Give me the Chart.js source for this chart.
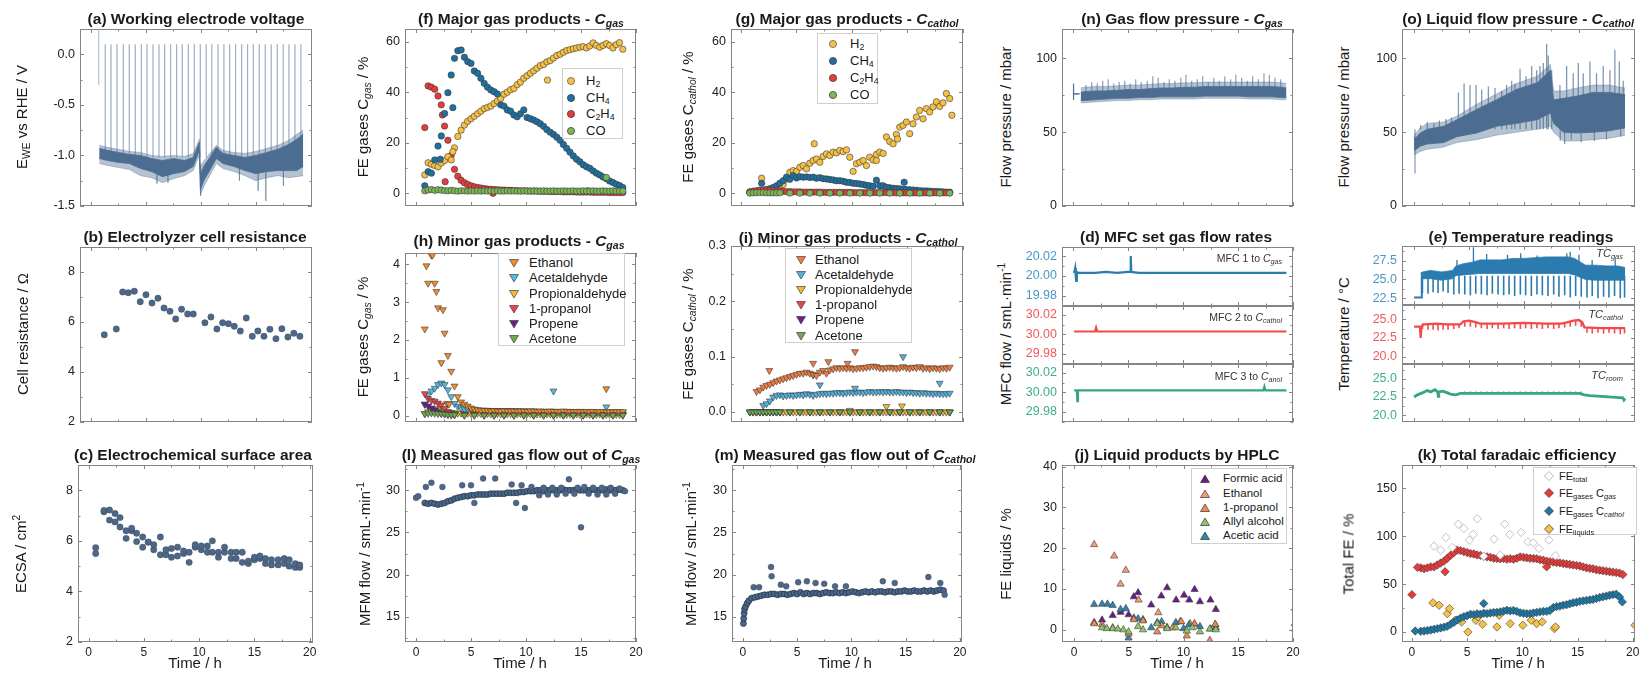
<!DOCTYPE html>
<html>
<head>
<meta charset="utf-8">
<script src="https://cdn.jsdelivr.net/npm/chart.js@4.4.1/dist/chart.umd.min.js"></script>
<style>
body { margin: 0; background: #fff; }
#fig { position: relative; width: 1639px; height: 680px; overflow: hidden; background: #fff;
       font-family: "Liberation Sans", Arial, Helvetica, sans-serif; color: #1a1a1a; }
.ttl { position: absolute; z-index: 3; transform: translate(-50%, -50%); font-weight: bold; font-size: 15.5px; white-space: nowrap; }
.yt { position: absolute; z-index: 3; transform: translate(-50%, -50%) rotate(-90deg); font-size: 15px; white-space: nowrap; }
.xt { position: absolute; z-index: 3; transform: translate(-50%, -50%); font-size: 15px; white-space: nowrap; }
.note { position: absolute; z-index: 3; transform: translate(-100%, -50%); font-size: 10.5px; color: #333; white-space: nowrap; }
sub, sup { font-size: 0.68em; line-height: 0; }
sub { vertical-align: -0.3em; }
sup { vertical-align: 0.55em; }
.lg { position: absolute; z-index: 3; box-sizing: border-box; border: 1px solid #cfcfcf; background: #fff; }
.lr { position: absolute; transform: translateY(-50%); white-space: nowrap; line-height: 1.15; }
.mk { position: absolute; width: 0; height: 0; }
</style>
</head>
<body>
<div id="fig">
  <div class="ttl" style="left:196px;top:19px">(a) Working electrode voltage</div>
  <div class="ttl" style="left:521px;top:19px">(f) Major gas products - <i>C</i><sub><i>gas</i></sub></div>
  <div class="ttl" style="left:847px;top:19px">(g) Major gas products - <i>C</i><sub><i>cathol</i></sub></div>
  <div class="ttl" style="left:1182px;top:19px">(n) Gas flow pressure - <i>C</i><sub><i>gas</i></sub></div>
  <div class="ttl" style="left:1518px;top:19px">(o) Liquid flow pressure - <i>C</i><sub><i>cathol</i></sub></div>
  <div class="ttl" style="left:195px;top:237px">(b) Electrolyzer cell resistance</div>
  <div class="ttl" style="left:519px;top:241px">(h) Minor gas products - <i>C</i><sub><i>gas</i></sub></div>
  <div class="ttl" style="left:848px;top:238px">(i) Minor gas products - <i>C</i><sub><i>cathol</i></sub></div>
  <div class="ttl" style="left:1176px;top:237px">(d) MFC set gas flow rates</div>
  <div class="ttl" style="left:1521px;top:237px">(e) Temperature readings</div>
  <div class="ttl" style="left:193px;top:455px">(c) Electrochemical surface area</div>
  <div class="ttl" style="left:521px;top:455px">(l) Measured gas flow out of <i>C</i><sub><i>gas</i></sub></div>
  <div class="ttl" style="left:845px;top:455px">(m) Measured gas flow out of <i>C</i><sub><i>cathol</i></sub></div>
  <div class="ttl" style="left:1177px;top:455px">(j) Liquid products by HPLC</div>
  <div class="ttl" style="left:1517px;top:455px">(k) Total faradaic efficiency</div>

  <div class="yt" style="left:21px;top:117px">E<sub>WE</sub> vs RHE / V</div>
  <div class="yt" style="left:362px;top:117px">FE gases C<sub><i>gas</i></sub> / %</div>
  <div class="yt" style="left:687px;top:117px">FE gases C<sub><i>cathol</i></sub> / %</div>
  <div class="yt" style="left:1005px;top:117px">Flow pressure / mbar</div>
  <div class="yt" style="left:1343px;top:117px">Flow pressure / mbar</div>
  <div class="yt" style="left:22px;top:334px">Cell resistance / Ω</div>
  <div class="yt" style="left:362px;top:337px">FE gases C<sub><i>gas</i></sub> / %</div>
  <div class="yt" style="left:687px;top:334px">FE gases C<sub><i>cathol</i></sub> / %</div>
  <div class="yt" style="left:1005px;top:334px">MFC flow / smL·min<sup>-1</sup></div>
  <div class="yt" style="left:1343px;top:334px">Temperature / °C</div>
  <div class="yt" style="left:20px;top:554px">ECSA / cm<sup>2</sup></div>
  <div class="yt" style="left:364px;top:554px">MFM flow / smL·min<sup>-1</sup></div>
  <div class="yt" style="left:690px;top:554px">MFM flow / smL·min<sup>-1</sup></div>
  <div class="yt" style="left:1005px;top:554px">FE liquids / %</div>
  <div class="yt" style="left:1348px;top:554px">Total FE / %</div>

  <div class="xt" style="left:195px;top:662px">Time / h</div>
  <div class="xt" style="left:520px;top:662px">Time / h</div>
  <div class="xt" style="left:845px;top:662px">Time / h</div>
  <div class="xt" style="left:1177px;top:662px">Time / h</div>
  <div class="xt" style="left:1518px;top:662px">Time / h</div>

  <div class="note" style="left:1282px;top:258px">MFC 1 to <i>C</i><sub><i>gas</i></sub></div>
  <div class="note" style="left:1282px;top:317px">MFC 2 to <i>C</i><sub><i>cathol</i></sub></div>
  <div class="note" style="left:1282px;top:376px">MFC 3 to <i>C</i><sub><i>anol</i></sub></div>
  <div class="note" style="left:1623px;top:253px;font-size:11px"><i>TC</i><sub><i>gas</i></sub></div>
  <div class="note" style="left:1623px;top:314px;font-size:11px"><i>TC</i><sub><i>cathol</i></sub></div>
  <div class="note" style="left:1623px;top:375px;font-size:11px"><i>TC</i><sub><i>room</i></sub></div>
</div>
<script>
// ---- sampling grids (h) ----
const G = [0.8,1.1,1.4,1.7,2.0,2.3,2.6,2.9,3.2,3.5,
  3.8,4.1,4.4,4.7,5.0,5.3,5.6,5.9,6.2,6.5,
  6.8,7.1,7.4,7.7,8.0,8.3,8.6,8.9,9.2,9.5,
  9.8,10.1,10.4,10.7,11.0,11.3,11.6,11.9,12.2,12.5,
  12.8,13.1,13.4,13.7,14.0,14.3,14.6,14.9,15.2,15.5,
  15.8,16.1,16.4,16.7,17.0,17.3,17.6,17.9,18.2,18.5,
  18.8];
const GC = [0.8,1.1,1.4,1.7,2.0,2.3,2.6,2.9,3.2,3.5,4.4,5.3,6.2,7.1,8.0,8.9,9.8,10.7,11.6,12.5,13.4,14.3,15.2,16.1,17.0,17.9,18.8];

// ---- (a) working electrode voltage ----
const aBandT  = [0.75,1.5,2.5,3.5,4.5,5.5,6.5,7.5,8.5,9.3,9.85,9.95,10.3,10.8,11.4,12.0,13.0,14.0,15.0,16.0,17.0,18.0,18.7,19.3];
const aBandHi = [-0.93,-0.95,-0.97,-0.99,-1.0,-1.03,-1.05,-1.03,-1.05,-1.02,-0.87,-1.18,-1.1,-1.02,-0.92,-0.98,-1.0,-1.02,-1.0,-0.97,-0.94,-0.89,-0.84,-0.79];
const aBandLo = [-1.03,-1.05,-1.07,-1.08,-1.13,-1.16,-1.21,-1.18,-1.16,-1.11,-0.95,-1.34,-1.24,-1.15,-1.03,-1.08,-1.11,-1.15,-1.18,-1.16,-1.15,-1.15,-1.15,-1.11];
const aHaloHi = [-0.9,-0.92,-0.94,-0.96,-0.97,-1.0,-1.01,-1.0,-1.01,-0.98,-0.84,-1.1,-1.05,-0.98,-0.9,-0.95,-0.97,-0.98,-0.96,-0.93,-0.9,-0.85,-0.79,-0.75];
const aHaloLo = [-1.08,-1.1,-1.12,-1.14,-1.2,-1.22,-1.27,-1.23,-1.2,-1.15,-1.0,-1.39,-1.3,-1.2,-1.08,-1.13,-1.16,-1.2,-1.25,-1.22,-1.2,-1.22,-1.21,-1.2];
const aSpikeT = [1.3,1.82,2.36,2.94,3.48,4.03,4.58,5.09,5.64,6.18,6.7,7.24,7.79,8.3,8.85,9.39,9.94,10.48,10.99,11.55,12.09,12.61,13.15,13.7,14.24,14.76,15.3,15.85,16.39,16.94,17.48,18.0,18.55,19.09];
const aSpikeTop = 0.1;
const aLeadT = [0.7, 0.7], aLeadV = [0.25, -0.3];
const aDipT = [6.0, 7.0, 9.97, 13.5, 15.2, 15.9, 17.5];
const aDipV = [-1.28, -1.27, -1.4, -1.25, -1.35, -1.45, -1.3];

// ---- (b) cell resistance ----
const bT = [1.21,2.3,2.88,3.39,3.94,4.48,5.0,5.55,6.09,6.64,7.18,7.7,8.24,8.79,9.3,10.36,10.91,11.45,11.97,12.5,13.03,13.58,14.12,14.67,15.18,15.73,16.27,16.82,17.36,17.91,18.45,19.0];
const bV = [5.49,5.72,7.2,7.17,7.23,6.81,7.09,6.76,6.95,6.56,6.43,6.12,6.51,6.32,6.32,5.97,6.2,5.72,5.97,5.93,5.83,5.64,6.16,5.43,5.64,5.43,5.71,5.33,5.73,5.4,5.55,5.43];

// ---- (c) ECSA, two readings per time ----
const cT  = [0.65,1.4,1.9,2.4,2.85,3.4,3.9,4.35,4.9,5.4,5.9,6.5,7.0,7.5,8.05,8.6,9.1,9.65,10.2,10.75,11.2,11.75,12.3,12.9,13.35,13.9,14.45,15.0,15.5,16.0,16.55,17.15,17.7,18.15,18.7,19.1];
const cV1 = [5.73,7.2,7.22,7.08,6.92,6.4,6.5,6.3,6.15,5.95,5.85,6.15,5.65,5.7,5.75,5.6,5.55,5.85,5.8,5.8,6.0,5.55,5.75,5.55,5.55,5.55,5.2,5.35,5.4,5.3,5.25,5.25,5.3,5.25,5.1,5.05];
const cV2 = [5.5,7.15,6.82,6.75,6.55,6.1,6.4,5.97,5.75,5.95,5.65,5.45,5.45,5.35,5.4,5.5,5.15,5.75,5.65,5.55,5.55,5.35,5.55,5.3,5.3,5.15,5.1,5.25,5.3,5.1,5.05,5.05,5.1,5.0,4.95,4.95];

// ---- (f) major gas products, C_gas (FE %) ----
const fH2 = [7.3,12.1,11.5,11.0,10.5,12.0,13.0,14.5,13.2,18.0,
  22.5,25.0,27.0,28.5,29.5,30.5,31.5,32.5,33.5,34.0,
  34.5,35.5,36.5,37.5,39.2,40.0,41.0,41.5,43.0,44.0,
  45.5,46.5,47.5,48.5,49.5,50.5,51.0,52.0,52.5,53.5,
  54.5,55.0,55.8,56.5,56.8,57.2,57.5,57.8,58.0,57.5,
  58.3,59.5,58.5,57.8,58.5,59.2,58.5,57.5,58.8,59.6,
  57.0];
const fH2x = [[11.95,44.8],[3.35,16.5]];
const fCH4 = [3.0,8.6,8.0,13.2,18.7,22.7,31.6,39.8,46.8,53.4,
  56.4,56.7,53.8,52.1,51.4,48.4,47.5,45.5,43.5,42.0,
  40.9,40.2,39.3,35.0,34.5,33.0,32.5,31.0,30.3,31.5,
  33.0,30.0,29.5,29.0,28.3,27.5,26.5,25.2,24.2,23.3,
  22.2,21.0,19.3,17.8,16.3,14.8,13.5,12.5,11.3,10.5,
  9.9,8.9,8.0,7.3,6.5,5.8,4.9,4.3,3.6,3.1,
  2.3];
const fCH4x = [[3.35,33.9],[15.6,1.0],[2.2,13.5]];
const fC2H4 = [26.0,42.5,42.0,41.2,38.5,35.0,26.6,21.0,15.0,9.5,
  6.8,5.2,4.2,3.5,3.0,2.6,2.3,2.1,1.9,1.7,
  1.6,1.5,1.4,1.3,1.3,1.2,1.2,1.1,1.1,1.0,
  1.0,1.0,0.9,0.9,0.9,0.8,0.8,0.8,0.7,0.7,
  0.7,0.7,0.6,0.6,0.6,0.6,0.5,0.5,0.5,0.5,
  0.5,0.4,0.4,0.4,0.4,0.4,0.3,0.3,0.3,0.3,
  0.3];
const fC2H4x = [[2.65,4.6],[7.0,0.0],[2.4,31.0]];
const fCO = [1.0,1.3,1.5,1.2,1.4,1.3,1.1,1.0,1.2,1.0,
  0.9,1.0,1.0,0.9,1.0,0.9,1.0,0.9,1.0,0.9,
  1.0,0.9,1.0,0.9,0.9,1.0,0.9,1.0,0.9,0.9,
  1.0,0.9,0.9,1.0,0.9,0.9,1.0,0.9,0.9,1.0,
  0.9,0.9,1.0,0.9,0.9,1.0,0.9,0.9,1.0,0.9,
  0.9,1.0,0.9,0.9,1.0,0.9,0.9,1.0,0.9,0.9,
  0.9];
const fCOx = [[17.3,6.3]];

// ---- (g) major gas products, C_cathol ----
const gH2 = [0.3,0.4,0.5,0.8,0.8,0.9,1.0,1.2,1.6,2.5,
  3.5,5.7,8.3,9.0,8.7,10.3,11.0,9.7,11.9,13.0,
  13.6,12.3,14.6,15.6,15.0,16.3,16.0,17.0,16.5,17.2,
  14.3,8.7,11.7,12.3,13.0,11.0,14.3,13.2,15.4,16.3,
  15.8,22.3,20.5,19.6,23.3,26.2,26.9,28.2,23.6,27.5,
  30.2,32.8,29.5,33.5,32.2,34.2,36.2,34.4,35.8,39.5,
  37.5];
const gH2x = [[1.86,6.0],[6.6,19.6],[19.0,30.9],[12.2,13.0],[14.1,21.5]];
const gCH4 = [0.6,0.8,1.0,1.2,1.2,1.5,1.8,2.3,3.0,4.0,
  5.0,6.4,5.6,7.0,6.1,6.6,6.4,6.5,6.3,6.4,
  6.0,6.2,5.8,5.7,5.5,5.3,5.0,5.0,4.8,4.4,
  4.3,4.0,3.9,3.7,3.5,3.2,3.0,2.8,5.2,3.0,
  3.0,2.4,2.2,2.0,1.9,1.8,1.6,1.5,1.4,1.3,
  1.2,1.1,1.0,1.0,0.9,0.8,0.8,0.7,0.6,0.5,
  0.5];
const gCH4x = [[1.86,4.0],[14.7,4.4]];
const gC2H4 = [0.5,0.8,1.0,1.2,1.3,1.3,1.2,1.1,1.0,0.9,
  0.8,0.7,0.7,0.6,0.6,0.6,0.5,0.5,0.5,0.5,
  0.5,0.5,0.4,0.4,0.4,0.4,0.4,0.4,0.4,0.4,
  0.4,0.3,0.3,0.3,0.3,0.3,0.3,0.3,0.3,0.3,
  0.3,0.3,0.3,0.3,0.2,0.2,0.2,0.2,0.2,0.2,
  0.2,0.2,0.2,0.2,0.2,0.2,0.2,0.2,0.2,0.2,
  0.2];
const gCO = [0.1,0.2,0.3,0.3,0.3,0.2,0.2,0.2,0.2,0.2,0.1,0.1,0.1,0.1,0.1,0.1,0.1,0.1,0.1,0.1,0.1,0.1,0.1,0.1,0.1,0.1,0.1];

// ---- (h) minor gas products, C_gas ----
const hEth = [2.29,3.5,4.24,3.5,2.85,1.4,2.18,1.59,1.17,0.78,
  0.5,0.36,0.3,0.25,0.2,0.17,0.15,0.14,0.13,0.13,
  0.12,0.13,0.12,0.12,0.13,0.12,0.12,0.12,0.11,0.12,
  0.12,0.11,0.12,0.12,0.11,0.12,0.11,0.11,0.12,0.11,
  0.11,0.11,0.12,0.11,0.11,0.1,0.11,0.11,0.1,0.11,
  0.1,0.11,0.1,0.1,0.11,0.1,0.1,0.1,0.1,0.1,
  0.1];
const hEthx = [[0.95,3.96],[1.5,4.24],[1.85,3.28],[2.45,2.8],[2.82,0.32],[17.3,0.71],[3.0,0.3]];
const hAce = [0.3,0.55,0.65,0.72,0.82,0.86,0.82,0.68,0.5,0.32,
  0.24,0.2,0.18,0.17,0.16,0.15,0.15,0.14,0.14,0.14,
  0.13,0.13,0.13,0.13,0.13,0.13,0.13,0.12,0.13,0.12,
  0.12,0.12,0.12,0.12,0.11,0.11,0.11,0.11,0.11,0.11,
  0.1,0.1,0.1,0.1,0.1,0.1,0.1,0.1,0.1,0.1,
  0.09,0.09,0.09,0.09,0.09,0.09,0.09,0.09,0.09,0.09,
  0.09];
const hAcex = [[12.5,0.65],[17.3,0.23]];
const hPropal = [0.05,0.1,0.13,0.17,0.18,0.15,0.12,0.1,0.08,0.07,
  0.06,0.06,0.05,0.06,0.05,0.05,0.06,0.05,0.05,0.05,
  0.04,0.05,0.05,0.04,0.05,0.04,0.05,0.04,0.04,0.05,
  0.04,0.04,0.04,0.05,0.04,0.04,0.04,0.04,0.04,0.04,
  0.03,0.04,0.04,0.03,0.04,0.03,0.04,0.03,0.03,0.04,
  0.03,0.03,0.03,0.04,0.03,0.03,0.03,0.03,0.03,0.03,
  0.03];
const hPropanol = [0.58,0.45,0.4,0.38,0.33,0.28,0.19,0.1,0.06,0.04,0.03,0.03,0.02,0.02,0.02,0.02,0.02,0.02,0.02,0.02,0.02,0.02,0.02,0.02,0.02,0.02,0.02];
const hPropene = [0.3,0.25,0.2,0.15,0.1,0.06,0.04,0.03,0.02,0.02,0.01,0.01,0.01,0.01,0.01,0.01,0.01,0.01,0.01,0.01,0.01,0.01,0.01,0.01,0.01,0.01,0.01];
const hAcetone = [0.05,0.06,0.07,0.06,0.05,0.05,0.04,0.03,0.02,0.02,0.01,0.01,0.01,0.01,0.01,0.01,0.01,0.01,0.01,0.01,0.01,0.01,0.01,0.01,0.01,0.01,0.01];

// ---- (i) minor gas products, C_cathol ----
const iEth = [null,null,0.037,0.04,0.045,0.048,0.05,0.053,0.056,0.058,
  0.06,0.062,0.064,0.066,0.068,0.07,0.07,0.072,0.07,0.068,
  0.066,0.072,0.075,0.07,0.076,0.078,0.08,0.079,0.08,0.079,
  0.08,0.078,0.079,0.08,0.08,0.081,0.082,0.083,0.082,0.08,
  0.079,0.08,0.081,0.08,0.079,0.08,0.082,0.08,0.079,0.081,
  0.08,0.082,0.079,0.08,0.078,0.08,0.079,0.078,0.08,0.079,
  0.081];
const iEthx = [[2.55,0.075],[6.5,0.088],[7.87,0.091],[9.6,0.088],[10.27,0.109]];
const iAce = [null,null,null,null,0.012,0.015,0.02,0.027,0.03,0.031,
  0.029,0.03,0.031,0.03,0.031,0.032,0.031,0.033,0.032,0.03,
  0.032,0.033,0.034,0.033,0.034,0.034,0.035,0.035,0.034,0.035,
  0.036,0.035,0.036,0.036,0.035,0.036,0.037,0.036,0.036,0.037,
  0.036,0.037,0.036,0.036,0.037,0.036,0.036,0.035,0.036,0.035,
  0.035,0.034,0.035,0.034,0.034,0.033,0.034,0.033,0.033,0.033,
  0.034];
const iAcex = [[6.5,0.067],[7.1,0.049],[10.27,0.043],[14.6,0.1],[17.9,0.052]];
const iPropal = [0,0,0,0,0,0,0,0,0,0, 0,0,0,0,0,0,0,0,0,0, 0,0,0,0,0,0,0,0,0,0,
  0,0,0,0,0,0,0,0,0,0, 0,0,0,0,0,0,0,0,0,0, 0,0,0,0,0,0,0,0,0,0, 0];
const iPropalx = [[13.1,0.01],[14.5,0.011],[9.8,0.003]];
const iPropanol = [0,0,0,0,0,0,0,0,0,0,0,0,0,0,0,0,0,0,0,0,0,0,0,0,0,0,0];
const iPropene = [0,0,0,0,0,0,0,0,0,0,0,0,0,0,0,0,0,0,0,0,0,0,0,0,0,0,0];
const iAcetone = [0,0,0,0,0,0,0,0,0,0,0,0,0,0,0,0,0,0,0,0,0,0,0,0,0,0,0];

// ---- (n) gas flow pressure ----
const nStartT = [0, 0.6], nStartV = [76, 76];
const nStartBarT = [0.05];
const nBandT  = [0.7,1,2,3,4,5,6,7,8,9,10,11,12,13,14,15,16,17,18,19,19.4];
const nBandLo = [71.5,71.5,72,72.5,73,73,73.5,73.5,74,74,74,74,74.5,74.5,74.5,74.5,74,74,74,73.5,73.5];
const nBandHi = [77,77.5,78,78,78.5,79,79,79.5,80,80,80.5,80.5,81,81,81,81,81,81,81,80.5,80];
const nHaloLo = [70,70,70.5,71,71.5,71.5,72,72,72.5,72.5,72.5,72.5,73,73,73,73,72.5,72.5,72.5,72,72];
const nHaloHi = [80,80.5,81,81,81.5,82,82,82.5,83,83,83.5,83.5,84,84,84,84,84,84,84,83.5,83];
const nSpikeT = [1.18,1.7,2.2,2.7,3.2,3.7,4.2,4.7,5.2,5.7,6.2,6.75,7.25,7.75,8.27,8.76,9.27,9.8,10.27,10.79,11.3,11.79,12.3,12.8,13.3,13.8,14.33,14.8,15.33,15.85,16.33,16.85,17.36,17.85,18.36,18.88];
const nSpikeV = [82,84,83,85,86,83,84,85,83,86,84,85,88,87,84,86,85,87,89,85,86,88,84,87,85,88,86,89,87,85,88,86,90,89,87,86];

// ---- (o) liquid flow pressure ----
const oBandT  = [0.0,0.12,0.55,1.2,2.7,3.9,5.7,7.5,9.3,11.2,12.4,12.7,13.6,14.8,16.3,17.8,19.2];
const oBandLo = [38,38,40.5,42,43,47,49.5,54,56,58.5,63,56,50,49.5,50,51,53];
const oBandHi = [47,46,49.5,52,54,58.5,65.5,72,79,83.5,92,72,73,74.5,77,77,75.5];
const oHaloLo = [35,35,37,38.5,40,43,45,48,50,52,54,50,44,44,45,46,48];
const oHaloHi = [49,49,53,56,57,61,69,76,83,88,96,78,78,80,82,82,80];
const oSpikeT = [0.6,1.2,1.8,2.3,2.9,3.4,4.03,4.55,5.09,5.64,6.15,6.76,7.36,7.97,8.42,8.88,9.18,9.64,10.18,10.7,11.15,11.45,11.76,12.06,12.21,12.52,13.27,13.88,14.48,14.94,15.39,16.0,16.6,17.21,17.82,18.27,18.67,19.03];
const oSpikeV = [55,57,56,58,59,60,77,83,82,82,79,81,80,78,82,85,83,93,88,95,92,95,97,110,102,92,82,95,90,97,90,98,90,95,92,106,98,85];
const oDipT = [0.08,13.3,13.7,14.3,15.2,16.4,17.5,18.8];
const oDipV = [22,44,42,45,43,44,45,47];

// ---- (d) MFC set flows ----
const d1T = [0.1,0.2,0.25,0.3,0.35,0.5,1,2,3,4,5,5.2,5.25,5.3,6,8,10,12,14,16,18,19.4];
const d1V = [20.003,20.008,19.999,19.995,20.004,20.003,20.003,20.003,20.004,20.003,20.004,20.004,20.02,20.004,20.003,20.003,20.003,20.003,20.003,20.003,20.003,20.003];
const d2T = [0.1,1,2,2.1,2.2,4,8,12,16,19.4];
const d2V = [30.003,30.003,30.003,30.007,30.003,30.003,30.003,30.003,30.003,30.003];
const d3T = [0.1,0.35,0.4,0.45,3,7,10,13,17.3,17.4,17.5,19.4];
const d3V = [30.002,30.002,29.991,30.002,30.002,30.002,30.002,30.002,30.002,30.006,30.002,30.002];

// ---- (e) temperatures ----
const eCycleT = [0.76,1.27,1.73,2.18,2.64,3.09,3.61,4.09,4.61,5.12,5.61,6.12,6.64,7.12,7.64,8.15,8.64,9.15,9.67,10.15,10.67,11.18,11.67,12.18,12.7,13.18,13.7,14.21,14.7,15.21,15.73,16.21,16.73,17.24,17.73,18.24,18.76,19.15];
const eGasPreT = [0, 0.7, 0.7], eGasPreV = [22.6, 22.6, 26.0];
const eGasT  = [0.75,1.5,2.5,3.5,3.8,4.5,5.3,6,7,8,9,10,11,12,13,14,14.6,15.6,16.5,17.5,18.5,19.2];
const eGasLo = [25.1,25.1,24.9,25.1,25.5,25.6,25.7,25.8,25.8,25.8,25.8,25.8,25.8,25.8,25.8,25.8,25.6,25.0,24.9,24.9,24.9,24.9];
const eGasHi = [26.0,26.2,26.0,26.2,26.8,27.1,27.3,27.6,27.6,27.6,27.8,27.8,27.9,28.0,28.0,28.0,27.8,26.9,26.9,26.8,26.8,26.6];
const eGasDipV = [23.2,23.1,23.3,23.2,23.4,23.2,23.0,23.1,23.0,22.9,23.1,23.0,22.9,23.1,23.0,22.9,23.0,22.8,23.0,22.9,22.8,23.0,22.9,22.8,23.0,22.7,22.9,22.6,22.8,22.7,22.6,22.8,22.5,22.7,22.6,22.8,22.5,22.6];
const eGasUpT = [3.9,5.4,6.6,8.5,9.7,11.2,13.9,14.2,15.0,16.2,18.3];
const eGasUpV = [27.6,29.3,28.4,28.3,28.5,28.2,28.5,28.7,28.3,27.6,27.7];
const eCatT = [0,0.55,0.6,0.65,0.8,1.0,2.0,3.0,4.2,4.5,5.0,5.6,6.0,8.0,10.0,12.0,13.4,14.0,14.5,15.0,15.3,15.5,17.0,19.2];
const eCatV = [24.0,24.0,22.5,23.8,24.3,24.3,24.4,24.3,24.3,24.7,24.8,24.6,24.4,24.4,24.5,24.4,24.4,24.6,24.8,24.9,24.6,23.9,23.8,23.8];
const eCatDipBase = [24.3,24.3,24.3,24.3,24.3,24.3,24.3,24.3,24.7,24.8,24.6,24.4,24.4,24.4,24.4,24.4,24.4,24.4,24.4,24.4,24.4,24.4,24.4,24.4,24.4,24.4,24.4,24.7,24.8,24.7,23.8,23.8,23.8,23.8,23.8,23.8,23.8,23.8];
const eCatDipV = [23.7,23.6,23.6,23.5,23.6,23.6,23.7,23.8,24.0,24.0,23.9,23.8,23.7,23.8,23.7,23.8,23.7,23.8,23.7,23.8,23.7,23.8,23.7,23.8,23.7,23.8,23.9,24.0,24.1,24.0,23.2,23.1,23.2,23.1,23.2,23.1,23.0,23.1];
const eRoomT = [0,0.3,0.8,1.2,1.5,1.9,2.15,2.2,2.25,2.6,3.0,3.3,3.8,4.2,15.0,15.5,16.0,17.0,18.0,19.0,19.1,19.2];
const eRoomV = [22.5,22.8,23.1,23.4,23.2,23.5,23.2,22.6,23.2,23.3,23.1,22.9,22.8,23.0,23.0,22.8,22.7,22.6,22.5,22.4,22.1,22.3];

// ---- (l), (m) measured gas flows ----
const lChain = [28.5,28.4,28.5,28.4,28.3,28.4,28.5,28.7,28.8,29.0,
  29.1,29.2,29.3,29.3,29.4,29.4,29.5,29.5,29.5,29.5,
  29.6,29.6,29.6,29.6,29.6,29.7,29.7,29.7,29.7,29.8,
  29.8,29.9,29.9,29.9,30.0,30.0,29.9,30.0,30.0,30.0,
  30.0,30.0,30.1,30.0,30.0,30.0,30.1,30.0,30.0,30.0,
  30.0,30.1,30.0,30.0,30.0,30.1,30.0,30.0,30.0,30.1,
  30.0];
const lScatter = [[0.0,29.1],[0.2,29.3],[0.9,30.4],[1.4,30.9],[2.4,30.4],[4.2,30.6],[5.0,30.6],[5.3,28.5],[6.1,31.4],[7.2,31.4],[8.7,30.7],[9.1,28.5],[9.6,30.6],[9.9,27.9],[10.5,30.4],[11.2,29.4],[11.6,30.3],[12.0,29.5],[12.4,30.3],[12.8,29.5],[13.2,30.3],[13.6,29.6],[13.9,31.3],[14.4,29.6],[14.7,30.3],[15.0,25.6],[15.3,30.4],[15.7,29.6],[16.1,30.3],[16.5,29.5],[16.9,30.3],[17.3,29.5],[17.7,30.3],[18.1,29.6],[18.5,30.2],[19.0,29.9]];
const mChain = [17.2,17.3,17.4,17.5,17.6,17.6,17.7,17.7,17.6,17.7,
  17.7,17.6,17.7,17.8,17.7,17.9,17.7,17.8,17.7,17.8,
  17.8,17.7,17.8,17.9,17.8,17.8,17.9,17.8,17.9,17.8,
  17.9,18.0,17.9,17.8,17.9,18.0,17.9,18.0,17.9,18.0,
  18.0,17.9,18.0,18.0,17.9,18.0,18.0,18.1,18.0,18.0,
  18.1,18.0,18.0,18.1,18.0,18.1,18.0,18.1,18.2,18.1,
  null];
const mStart = [[0.05,14.2],[0.08,14.8],[0.12,15.4],[0.16,15.9],[0.25,16.2],[0.4,16.6],[0.55,16.9]];
const mScatter = [[1.0,18.5],[1.5,18.5],[2.6,20.9],[2.65,19.8],[3.5,18.8],[4.0,18.6],[5.1,19.1],[5.9,19.2],[6.7,19.0],[7.5,18.9],[8.5,18.6],[9.5,18.6],[12.9,19.2],[14.0,19.0],[17.1,19.7],[18.2,19.0],[18.6,17.6]];

// ---- (j) liquid products by HPLC ----
const jFormic = [[1.84,1.8],[2.56,2.4],[3.53,3.5],[4.25,4.3],[4.98,3.7],[5.46,8.1],[5.85,9.1],[7.05,6.1],[7.97,8.3],[8.5,10.3],[9.32,7.3],[10.05,8.5],[10.53,7.3],[11.01,9.9],[11.5,6.9],[12.46,7.3],[12.95,5.0],[20.2,5.3]];
const jEthanol = [[1.84,20.9],[3.67,18.1],[4.25,11.2],[4.73,14.6],[5.9,7.3],[7.7,4.2],[9.7,2.0],[10.6,1.5],[12.9,1.3],[20.2,1.7]];
const jPropanol = [[1.84,1.5],[2.56,1.3],[3.53,0.5],[4.98,-1.0],[5.46,2.5],[6.3,2.2],[7.6,-0.5],[8.0,1.0],[9.0,0.5],[9.8,2.0],[10.3,-1.5],[11.0,1.5],[12.4,-2.6],[12.9,1.3],[20.2,1.5]];
const jAllyl = [[2.56,0.5],[3.0,0.3],[3.53,0.3],[4.0,0.2],[4.5,0.0],[4.98,-0.5],[5.85,0.8],[6.3,0.0],[7.6,1.5],[8.5,0.3],[9.3,0.5],[10.3,-0.3],[10.8,0.5],[11.5,-0.5],[12.4,0.2],[12.95,0.0],[20.2,0.2]];
const jAcetic = [[1.84,6.2],[2.56,6.3],[3.05,6.3],[3.53,6.0],[4.25,5.0],[4.73,5.2],[4.98,-2.0],[5.46,2.9],[5.85,2.7],[6.3,2.5],[7.05,0.5],[7.6,1.8],[8.0,2.0],[8.5,0.6],[9.3,1.8],[10.0,0.3],[10.5,1.2],[11.0,1.4],[11.5,0.8],[12.46,0.2],[12.95,0.5],[20.2,0.3]];

// ---- (k) total faradaic efficiency ----
const kTotal = [[2.0,89.7],[2.6,85.5],[3.08,98.7],[3.65,88.3],[4.2,112.7],[4.7,108.2],[5.2,96],[5.55,101.9],[5.92,118.3],[6.5,79.2],[7.44,97],[8.0,80.3],[8.4,112.7],[8.86,101.9],[9.9,104],[10.5,94.2],[11.0,93.2],[11.5,87.2],[12.4,96],[13.0,79.6]];
const kGasRed = [67,66,67,68,68,70,72,74,77,80,
  83,85.5,85,84,83,82,81.5,80.5,80,79,
  78.5,78,77,76.8,76.5,76.8,76,76.5,76,77,
  78.5,78,77.5,77,76.8,76.5,75.5,75,74,73.5,
  73,72.5,72.2,71.5,71,70.5,70,69.5,69,68,
  67,66.5,66,65,64.5,64,63.5,63,62.5,62,
  61.5];
const kGasRedx = [[0.0,39],[0.5,67.5],[3.0,63],[12.2,68],[19.1,60]];
const kCathBlue = [0.8,1.0,1.5,2.0,2.8,3.5,4.2,5.0,6.0,8.0,
  10.0,12.5,14.5,16.0,17.0,18.5,18.0,19.0,18.5,19.5,
  19.2,19.8,20.3,20.5,21.0,21.8,22.7,22.0,22.5,21.5,
  20.0,19.5,19.0,19.2,19.8,20.5,21.0,21.5,21.6,22.5,
  25.5,26.5,27.0,28.0,28.5,29.5,30.5,31.0,32.0,32.5,
  33.0,33.5,34.0,35.0,36.0,36.8,37.5,38.4,39.0,39.4,
  36.6];
const kCathBluex = [[0.3,1.0],[6.5,29.7],[19.05,31.4]];
const kLiquids = [[1.9,30.4],[2.46,27.9],[3.2,19.2],[3.4,24.4],[3.9,12.2],[4.5,10.5],[5.07,0],[5.8,12.2],[6.0,15.7],[6.4,8.0],[7.7,5.2],[7.9,17.4],[8.9,8.7],[10.05,7.0],[10.8,12.2],[11.3,8.7],[11.8,10.5],[12.9,3.5],[13.0,5.2],[20.2,7.0]];

// ---- colours ----
const C_H2 = '#f4c144', C_CH4 = '#1f6f9f', C_C2H4 = '#e63b3b', C_CO = '#7cb657';
const C_ETH = '#f28c28', C_ACE = '#55b8e0', C_PAL = '#f5b731', C_POL = '#ec4250', C_PEN = '#6b1f8f', C_TON = '#6fa84f';
const C_DOT = '#4b6789';
const DENSE = '#4d6d91', HALO = 'rgba(77,109,145,0.42)';
const C_BLUE = '#2b7bb0', C_RED = '#f24a4a', C_GRN = '#37a582';

// ---- helpers ----
const P = (ts, ys) => ts.map((t, i) => ({ x: t, y: ys[i] })).filter(p => p.y !== null);
const PP = arr => arr.map(p => ({ x: p[0], y: p[1] }));
function spikes(ts, base, tops) {
  const out = [];
  ts.forEach((t, i) => {
    out.push({ x: t, y: Array.isArray(base) ? base[i] : base });
    out.push({ x: t, y: Array.isArray(tops) ? tops[i] : tops });
    out.push({ x: t, y: null });
  });
  return out;
}
function dots(data, fill, o = {}) {
  return Object.assign({ data, showLine: false, pointStyle: 'circle', pointRadius: 3.2,
    pointBackgroundColor: fill, pointBorderColor: '#3a3a3a', pointBorderWidth: 0.6 }, o);
}
function ln(data, color, w) {
  return { data, showLine: true, pointRadius: 0, borderColor: color, borderWidth: w, fill: false, spanGaps: false };
}
function band(ts, lo, hi, color) {
  return [
    { data: P(ts, lo), showLine: true, pointRadius: 0, borderWidth: 0.8, borderColor: color, fill: false },
    { data: P(ts, hi), showLine: true, pointRadius: 0, borderWidth: 0.8, borderColor: color, backgroundColor: color, fill: '-1' }
  ];
}

const frameTicks = {
  id: 'frameTicks',
  afterDatasetsDraw(chart, args, opts) {
    const { ctx, chartArea: a } = chart;
    ctx.save();
    ctx.strokeStyle = '#858585';
    ctx.lineWidth = 1;
    ctx.beginPath();
    const mark = (scale, minor, horiz) => {
      for (let k = Math.ceil(scale.min / minor - 1e-6); k * minor <= scale.max + 1e-9; k++) {
        const len = (k % 2 === 0) ? 4 : 2.5;
        const p = Math.round(scale.getPixelForValue(k * minor)) + 0.5;
        if (horiz) {
          ctx.moveTo(p, a.bottom); ctx.lineTo(p, a.bottom - len);
          ctx.moveTo(p, a.top); ctx.lineTo(p, a.top + len);
        } else {
          ctx.moveTo(a.left, p); ctx.lineTo(a.left + len, p);
          ctx.moveTo(a.right, p); ctx.lineTo(a.right - len, p);
        }
      }
    };
    mark(chart.scales.x, opts.xm, true);
    mark(chart.scales.y, opts.ym, false);
    ctx.stroke();
    ctx.strokeRect(Math.round(a.left) + 0.5, Math.round(a.top) + 0.5,
      Math.round(a.right - a.left) - 1, Math.round(a.bottom - a.top) - 1);
    ctx.restore();
  }
};

Chart.register(frameTicks);
Chart.defaults.font.family = '"Liberation Sans", Arial, sans-serif';
const fig = document.getElementById('fig');

function plot(rect, xr, yr, yStep, datasets, o = {}) {
  const ML = 48, MR = 8, MT = 8, MB = o.xLabels ? 22 : 8;
  const W = rect[2] + ML + MR, H = rect[3] + MT + MB;
  const wrap = document.createElement('div');
  wrap.style.cssText = `position:absolute;z-index:1;left:${rect[0] - ML}px;top:${rect[1] - MT}px;width:${W}px;height:${H}px;`;
  const cv = document.createElement('canvas');
  cv.width = W; cv.height = H;
  cv.style.width = W + 'px'; cv.style.height = H + 'px';
  wrap.appendChild(cv);
  fig.appendChild(wrap);
  const dec = o.dec;
  return new Chart(cv, {
    type: 'scatter',
    data: { datasets: datasets.flat() },
    options: {
      responsive: false, animation: false, devicePixelRatio: 1, events: [],
      layout: { padding: { left: 0, right: MR, top: MT, bottom: 0 } },
      plugins: { legend: { display: false }, tooltip: { enabled: false },
                 frameTicks: { xm: 2.5, ym: yStep / 2 } },
      scales: {
        x: { type: 'linear', min: xr[0], max: xr[1],
             grid: { display: false, drawTicks: false }, border: { display: false },
             ticks: { display: !!o.xLabels, stepSize: 5, includeBounds: false, padding: 3,
                      maxRotation: 0, autoSkip: false, font: { size: 12 }, color: '#222' },
             afterFit(s) { s.height = MB; s.paddingLeft = 0; s.paddingRight = 0; } },
        y: { type: 'linear', min: yr[0], max: yr[1],
             grid: { display: false, drawTicks: false }, border: { display: false },
             ticks: { stepSize: yStep, includeBounds: false, padding: 5, autoSkip: false,
                      font: { size: 12.5 }, color: o.tickColor || '#222',
                      callback: v => dec === undefined ? v : v.toFixed(dec) },
             afterFit(s) { s.width = ML; s.paddingTop = 0; s.paddingBottom = 0; } }
      }
    }
  });
}

function marker(shape, fill, stroke) {
  const s = {
    circle: '<circle cx="6" cy="6" r="3.6"/>',
    down: '<polygon points="1.5,2.5 10.5,2.5 6,10"/>',
    up: '<polygon points="6,2 10.5,9.5 1.5,9.5"/>',
    diamond: '<polygon points="6,1.5 10.5,6 6,10.5 1.5,6"/>'
  }[shape];
  return `<svg width="12" height="12" style="position:absolute;left:-6px;top:-6px"><g fill="${fill}" stroke="${stroke}" stroke-width="0.7">${s}</g></svg>`;
}
function legend(box, mx, tx, y0, dy, fs, items) {
  const d = document.createElement('div');
  d.className = 'lg';
  d.style.cssText = `left:${box[0]}px;top:${box[1]}px;width:${box[2]}px;height:${box[3]}px;font-size:${fs}px;`;
  items.forEach((it, i) => {
    const cy = y0 + i * dy;
    d.insertAdjacentHTML('beforeend',
      `<div class="mk" style="left:${mx}px;top:${cy}px">${marker(it[0], it[1], it[2])}</div>` +
      `<div class="lr" style="left:${tx}px;top:${cy}px">${it[3]}</div>`);
  });
  fig.appendChild(d);
}

const tri = (data, fill, r) => dots(data, fill, { pointStyle: 'triangle', pointRotation: 180, pointRadius: r || 4 });
const triUp = (data, fill) => dots(data, fill, { pointStyle: 'triangle', pointRadius: 4.2 });
const dia = (data, fill, stroke) => dots(data, fill, { pointStyle: 'rectRot', pointRadius: 4.2, pointBorderColor: stroke || '#3a3a3a' });

// (a)
plot([80, 29, 232, 177], [-1, 20.1], [-1.5, 0.25], 0.5, [
  band(aBandT, aHaloLo, aHaloHi, HALO),
  band(aBandT, aBandLo, aBandHi, DENSE),
  ln(spikes(aSpikeT, -1.02, aSpikeTop), 'rgba(77,109,145,0.55)', 1.2),
  ln(spikes(aDipT, -1.1, aDipV), HALO, 1),
  ln(P(aLeadT, aLeadV), HALO, 1.2)
], { dec: 1 });

// (f)
plot([405, 29, 231, 177], [-1, 20], [-5, 65], 20, [
  dots(P(G, fCO).concat(PP(fCOx)), C_CO),
  dots(P(G, fCH4).concat(PP(fCH4x)), C_CH4),
  dots(P(G, fH2).concat(PP(fH2x)), C_H2),
  dots(P(G, fC2H4).concat(PP(fC2H4x)), C_C2H4)
]);

// (g)
plot([731, 29, 232, 177], [-0.9, 20], [-5, 65], 20, [
  dots(P(GC, gCO), C_CO),
  dots(P(G, gC2H4), C_C2H4),
  dots(P(G, gCH4).concat(PP(gCH4x)), C_CH4),
  dots(P(G, gH2).concat(PP(gH2x)), C_H2)
]);

// (n)
plot([1062, 29, 231, 177], [-1, 20], [0, 120], 50, [
  band(nBandT, nHaloLo, nHaloHi, HALO),
  band(nBandT, nBandLo, nBandHi, DENSE),
  ln(spikes(nSpikeT, 77, nSpikeV), 'rgba(77,109,145,0.6)', 1.3),
  ln(P(nStartT, nStartV), DENSE, 1.5),
  ln(spikes(nStartBarT, 72, 83), DENSE, 1.2)
]);

// (o)
plot([1402, 29, 233, 177], [-1.1, 20.1], [0, 120], 50, [
  band(oBandT, oHaloLo, oHaloHi, HALO),
  band(oBandT, oBandLo, oBandHi, DENSE),
  ln(spikes(oSpikeT, 52, oSpikeV), 'rgba(77,109,145,0.7)', 1.3),
  ln(spikes(oDipT, 52, oDipV), 'rgba(77,109,145,0.7)', 1.2)
]);

// (b)
plot([80, 247, 232, 175], [-1, 20.1], [2, 9], 2, [
  dots(P(bT, bV), C_DOT, { pointRadius: 3.2, pointBorderWidth: 0.3 })
]);

// (h)
plot([405, 253, 231, 169], [-1, 20], [-0.17, 4.3], 1, [
  tri(P(GC, hAcetone), C_TON),
  tri(P(GC, hPropene), C_PEN),
  tri(P(GC, hPropanol), C_POL),
  tri(P(G, hEth).concat(PP(hEthx)), C_ETH),
  tri(P(G, hAce).concat(PP(hAcex)), C_ACE),
  tri(P(G, hPropal), C_PAL)
]);

// (i)
plot([731, 246, 232, 176], [-0.9, 20], [-0.018, 0.3], 0.1, [
  tri(P(GC, iAcetone), C_TON),
  tri(P(GC, iPropene), C_PEN),
  tri(P(GC, iPropanol), C_POL),
  tri(P(G, iEth).concat(PP(iEthx)), '#ef7b3f'),
  tri(P(G, iAce).concat(PP(iAcex)), '#4fb0de'),
  tri(P(G, iPropal).concat(PP(iPropalx)), C_PAL)
], { dec: 1 });

// (d)
plot([1062, 247, 231, 59], [-1, 20], [19.9696, 20.0292], 0.02, [ln(P(d1T, d1V), C_BLUE, 2.2)], { dec: 2, tickColor: '#4a97c6' });
plot([1062, 306, 231, 58], [-1, 20], [29.9696, 30.0292], 0.02, [ln(P(d2T, d2V), C_RED, 2.2)], { dec: 2, tickColor: '#f05a5a' });
plot([1062, 364, 231, 58], [-1, 20], [29.9696, 30.0292], 0.02, [ln(P(d3T, d3V), C_GRN, 2.2)], { dec: 2, tickColor: '#3fae8c' });

// (e)
plot([1402, 246, 233, 59], [-1.1, 20.1], [21.6, 29.45], 2.5, [
  ln(P(eGasPreT, eGasPreV), C_BLUE, 2),
  band(eGasT, eGasLo, eGasHi, C_BLUE),
  ln(spikes(eCycleT, 25.5, eGasDipV), C_BLUE, 1.6),
  ln(spikes(eGasUpT, 26.5, eGasUpV), C_BLUE, 1.3)
], { dec: 1, tickColor: '#4a97c6' });
plot([1402, 305, 233, 59], [-1.1, 20.1], [19.0, 26.9], 2.5, [
  ln(P(eCatT, eCatV), C_RED, 2.4),
  ln(spikes(eCycleT, eCatDipBase, eCatDipV), C_RED, 1.6)
], { dec: 1, tickColor: '#f05a5a' });
plot([1402, 364, 233, 58], [-1.1, 20.1], [19.1, 27.0], 2.5, [
  ln(P(eRoomT, eRoomV), C_GRN, 2.8),
  ln(spikes(eCycleT.slice(8, 30), 23.0, 23.25), C_GRN, 1.5)
], { dec: 1, tickColor: '#3fae8c' });

// (c)
plot([78, 465, 235, 177], [-0.95, 20.3], [2, 9], 2, [
  dots(P(cT, cV1), C_DOT, { pointRadius: 3.2, pointBorderWidth: 0.3 }),
  dots(P(cT, cV2), C_DOT, { pointRadius: 3.2, pointBorderWidth: 0.3 })
], { xLabels: true });

// (l)
plot([405, 465, 231, 177], [-1, 20], [12, 33], 5, [
  dots(PP(lScatter), C_DOT, { pointRadius: 3, pointBorderWidth: 0.3 }),
  dots(P(G, lChain), C_DOT, { pointRadius: 3, pointBorderColor: '#1f2f45', pointBorderWidth: 0.7 })
], { xLabels: true });

// (m)
plot([732, 465, 230, 177], [-1, 20.2], [12, 33], 5, [
  dots(PP(mScatter), C_DOT, { pointRadius: 3, pointBorderWidth: 0.3 }),
  dots(PP(mStart).concat(P(G, mChain)), C_DOT, { pointRadius: 3, pointBorderColor: '#1f2f45', pointBorderWidth: 0.7 })
], { xLabels: true });

// (j)
plot([1062, 465, 231, 177], [-1.1, 20], [-3, 40.4], 10, [
  triUp(PP(jAllyl), '#8fc46a'),
  triUp(PP(jPropanol), '#f08a50'),
  triUp(PP(jAcetic), '#2d86b0'),
  triUp(PP(jEthanol), '#f59a74'),
  triUp(PP(jFormic), '#6a1b8a')
], { xLabels: true });

// (k)
plot([1402, 465, 233, 177], [-0.9, 20.2], [-10.5, 174.5], 50, [
  dia(PP(kTotal), '#ffffff', '#9a9a9a'),
  dia(P(G, kGasRed).concat(PP(kGasRedx)), C_C2H4),
  dia(P(G, kCathBlue).concat(PP(kCathBluex)), '#1f77a3'),
  dia(PP(kLiquids), C_H2)
], { xLabels: true });

// legends
const majorItems = [
  ['circle', C_H2, '#555', 'H<sub>2</sub>'],
  ['circle', C_CH4, '#333', 'CH<sub>4</sub>'],
  ['circle', C_C2H4, '#333', 'C<sub>2</sub>H<sub>4</sub>'],
  ['circle', C_CO, '#333', 'CO']
];
legend([562, 68, 61, 71], 8, 23, 12, 16.7, 13, majorItems);
legend([817, 33, 61, 71], 15, 32, 10.3, 16.9, 13, majorItems);
const minorNames = ['Ethanol', 'Acetaldehyde', 'Propionaldehyde', '1-propanol', 'Propene', 'Acetone'];
const minorColsH = [C_ETH, C_ACE, C_PAL, C_POL, C_PEN, C_TON];
const minorColsI = ['#ef7b3f', '#4fb0de', C_PAL, C_POL, C_PEN, C_TON];
legend([498, 253, 127, 93], 15, 30, 9.3, 15.1, 13, minorNames.map((n, i) => ['down', minorColsH[i], '#444', n]));
legend([785, 248, 127, 95], 15, 29, 11, 15.1, 13, minorNames.map((n, i) => ['down', minorColsI[i], '#444', n]));
legend([1191, 468, 96, 76], 13, 31, 10.3, 14.2, 11.5, [
  ['up', '#6a1b8a', '#333', 'Formic acid'],
  ['up', '#f59a74', '#333', 'Ethanol'],
  ['up', '#f08a50', '#333', '1-propanol'],
  ['up', '#8fc46a', '#333', 'Allyl alcohol'],
  ['up', '#2d86b0', '#333', 'Acetic acid']
]);
legend([1533, 467, 104, 68], 14.6, 25, 7.5, 17.8, 11, [
  ['diamond', '#ffffff', '#9a9a9a', 'FE<sub>total</sub>'],
  ['diamond', C_C2H4, '#333', 'FE<sub>gases</sub> C<sub><i>gas</i></sub>'],
  ['diamond', '#1f77a3', '#333', 'FE<sub>gases</sub> C<sub><i>cathol</i></sub>'],
  ['diamond', C_H2, '#333', 'FE<sub>liquids</sub>']
]);
</script>
</body>
</html>
